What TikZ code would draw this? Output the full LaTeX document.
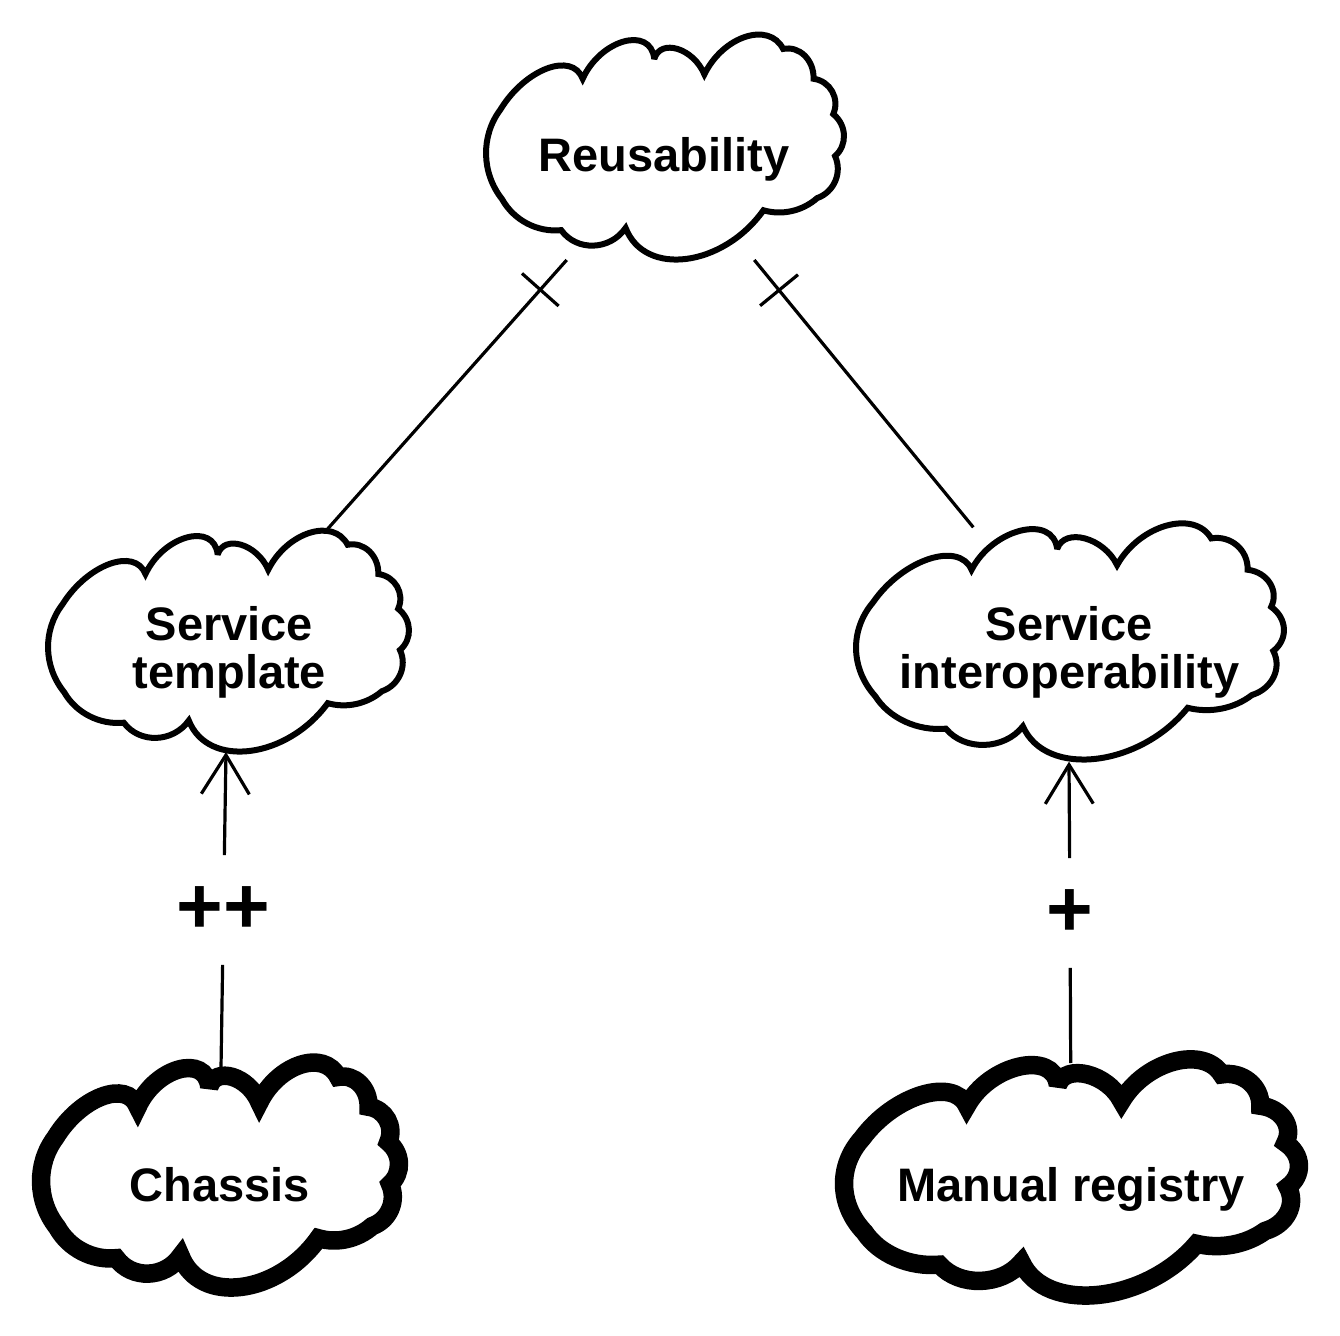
\documentclass[tikz,border=0pt]{standalone}
\usepackage{fontspec}
\setmainfont{Liberation Sans}
\usetikzlibrary{arrows.meta,calc}
\newcommand\softgoalpath{(-0.92,-0.36)
 .. controls (-0.781,-0.730) and (-0.519,-0.890) .. (-0.46,-0.64)
 .. controls (-0.36,-0.997) and (-0.08,-1.123) .. (-0.06,-0.82)
 .. controls (-0.025,-1.009) and (0.159,-0.917) .. (0.22,-0.68)
 .. controls (0.325,-1.028) and (0.581,-1.162) .. (0.66,-0.91)
 .. controls (0.751,-0.94) and (0.833,-0.81) .. (0.83,-0.64)
 .. controls (0.923,-0.62) and (0.978,-0.46) .. (0.94,-0.32)
 .. controls (1.016,-0.221) and (1.02,-0.039) .. (0.95,0.06)
 .. controls (0.992,0.208) and (0.945,0.386) .. (0.85,0.44)
 .. controls (0.768,0.557) and (0.654,0.599) .. (0.55,0.55)
 .. controls (0.324,1.064) and (-0.114,1.156) .. (-0.22,0.71)
 .. controls (-0.307,0.915) and (-0.493,0.925) .. (-0.58,0.73)
 .. controls (-0.713,0.752) and (-0.845,0.64) .. (-0.91,0.45)
 .. controls (-1.026,0.212) and (-1.03,-0.122) .. (-0.92,-0.36) -- cycle}
\begin{document}
\begin{tikzpicture}[x=0.5pt,y=-0.5pt,
  sgthin/.style={draw=black,line width=3pt,miter limit=2.5},
  sgthick/.style={draw=black,line width=9.25pt,miter limit=2.5},
  lbl/.style={font=\bfseries\fontsize{23.5}{24}\selectfont,inner sep=0pt,align=center},
  conn/.style={draw=black,line width=1.6pt},
  helpsarrow/.style={-{Straight Barb[length=19.5pt,width=24pt]}},
  contrib/.style={font=\bfseries\fontsize{40}{40}\selectfont,inner sep=0pt,minimum height=54.5pt}]
\fill[white] (0,0) rectangle (1340,1336);
\useasboundingbox (0,0) rectangle (1340,1336);
% cloud centres
\coordinate (reu) at (665,149.5);
\coordinate (st) at (228.5,643.5);
\coordinate (si) at (1070,644);
\coordinate (ch) at (220,1177.5);
\coordinate (mr) at (1071.5,1180);
% clouds
\draw[sgthin, shift={(reu)}, xscale=179, yscale=110.5] \softgoalpath;
\draw[sgthin, shift={(st)}, xscale=180.5, yscale=108.5] \softgoalpath;
\draw[sgthin, shift={(si)}, xscale=214, yscale=116] \softgoalpath;
\draw[sgthick, shift={(ch)}, xscale=179, yscale=110.5] \softgoalpath;
\draw[sgthick, shift={(mr)}, xscale=227.5, yscale=116] \softgoalpath;
% labels
\node[lbl, anchor=base] (reu-t) at (664,171.7) {Reusability};
\node[lbl] (st-t) at (229.5,652) {Service\\template};
\node[lbl] (si-t) at (1069.5,652) {Service\\interoperability};
\node[lbl, anchor=base] (ch-t) at (220,1201.7) {Chassis};
\node[lbl, anchor=base] (mr-t) at (1071.3,1201.7) {Manual registry};
% connector end points
\coordinate (reu-l) at ($(reu)+(-98.3,110.5)$);
\coordinate (reu-r) at ($(reu)+(89.3,110.5)$);
\coordinate (st-top) at ($(st)+(98.2,-113.5)$);
\coordinate (si-top) at ($(si)+(-96.7,-116.7)$);
\coordinate (st-bot) at ($(st)+(-2.5,108.5)$);
\coordinate (si-bot) at ($(si)+(-1,117.7)$);
\coordinate (ch-top) at ($(ch)+(1,-109.5)$);
\coordinate (mr-top) at ($(mr)+(-0.8,-117)$);
% break links
\draw[conn] (reu-l) -- (st-top) coordinate[pos=0.11] (x1);
\draw[conn] ($(x1)!12.25pt!90:(reu-l)$) -- ($(x1)!12.25pt!-90:(reu-l)$);
\draw[conn] (reu-r) -- (si-top) coordinate[pos=0.113] (x2);
\draw[conn] ($(x2)!12.25pt!90:(reu-r)$) -- ($(x2)!12.25pt!-90:(reu-r)$);
% contribution links
\node[contrib] (pp) at (223.5,910) {++};
\draw[conn] (ch-top) -- (pp);
\draw[conn, helpsarrow] (pp) -- (st-bot);
\node[contrib] (p1) at (1070,913) {+};
\draw[conn] (mr-top) -- (p1);
\draw[conn, helpsarrow] (p1) -- (si-bot);
\end{tikzpicture}
\end{document}
